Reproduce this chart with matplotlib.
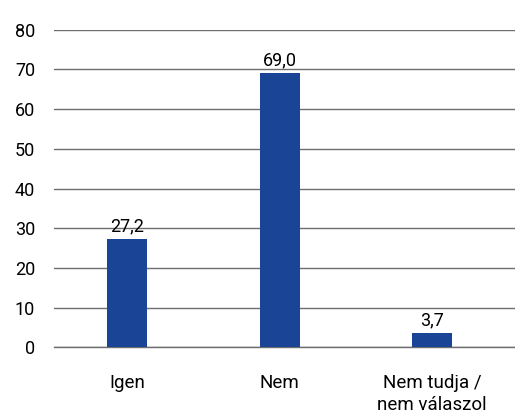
import matplotlib
matplotlib.use("Agg")
import matplotlib.pyplot as plt

# chart data
categories = ["Igen", "Nem", "Nem tudja /\nnem válaszol"]
values = [27.2, 69.0, 3.7]
value_labels = ["27,2", "69,0", "3,7"]
y_ticks = [0, 10, 20, 30, 40, 50, 60, 70, 80]

BAR_COLOR = "#1a4496"
GRID_COLOR = "#6e6e6e"

plt.rcParams["font.family"] = ["Roboto", "DejaVu Sans"]

fig = plt.figure(figsize=(5.15, 4.16), dpi=100)
ax = fig.add_axes([54 / 515, 0.165, 461 / 515, 0.7636])

x = list(range(len(categories)))
bars = ax.bar(x, values, width=0.262, color=BAR_COLOR, zorder=3)

for bar, label in zip(bars, value_labels):
    ax.text(bar.get_x() + bar.get_width() / 2, bar.get_height() + 0.9, label,
            ha="center", va="bottom", fontsize=13, color="black", zorder=4)

ax.set_xlim(-0.479, 2.544)
ax.set_ylim(0, 80)
ax.set_yticks(y_ticks)
ax.set_yticklabels([str(t) for t in y_ticks])
ax.yaxis.grid(True, color=GRID_COLOR, linewidth=1.0, zorder=0)
ax.set_axisbelow(True)

ax.set_xticks(x)
ax.set_xticklabels(categories, fontsize=13.5, linespacing=1.3, va="top")
ax.tick_params(axis="x", length=0, pad=19)
ax.tick_params(axis="y", length=0, pad=13.5, labelsize=13)

for side in ["top", "right", "left"]:
    ax.spines[side].set_visible(False)
ax.spines["bottom"].set_color(GRID_COLOR)
ax.spines["bottom"].set_linewidth(1.0)

fig.savefig("out.png", dpi=100)
